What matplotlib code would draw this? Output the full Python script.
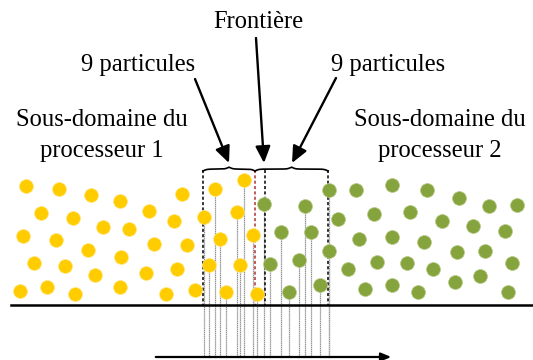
import numpy as np
import matplotlib
matplotlib.use("Agg")
import matplotlib.pyplot as plt

plt.rcParams["font.family"] = ["Liberation Serif", "DejaVu Serif"]

# particle centres (pixel units, y down)
yellow_x = [26, 59, 91, 120, 182, 215, 244, 41, 73, 149, 174, 204, 237,
            23, 56, 103, 129, 88, 154, 187, 220, 253, 34, 65, 121, 95, 146,
            177, 209, 240, 20, 47, 75, 120, 166, 195, 226, 257]
yellow_y = [186, 189, 195, 201, 194, 189, 180, 213, 218, 211, 221, 217, 212,
            236, 240, 227, 229, 250, 244, 245, 239, 235, 263, 266, 257, 275,
            273, 269, 265, 265, 291, 287, 294, 287, 294, 290, 292, 294]
green_x = [264, 305, 281, 311, 270, 299, 289, 320, 329, 329, 356, 392, 427,
           459, 489, 517, 338, 374, 410, 442, 473, 505, 359, 392, 424, 457,
           485, 348, 377, 407, 433, 455, 480, 512, 365, 392, 418, 508]
green_y = [204, 206, 232, 232, 264, 260, 292, 285, 190, 251, 190, 185, 190,
           198, 206, 205, 219, 214, 212, 221, 226, 231, 239, 237, 242, 252,
           251, 269, 262, 263, 269, 282, 276, 263, 289, 285, 292, 292]

# overlap zone edges
box_left, red_front, black_front, box_right = 203, 255, 265, 328
ground_y, axis_y = 305, 357

fig = plt.figure(figsize=(5.33, 3.6), dpi=100)
ax = fig.add_axes([0, 0, 1, 1])
ax.set_xlim(0, 533)
ax.set_ylim(360, 0)
ax.axis("off")

# projections of the particles in the overlap zone
for xs, ys in [(yellow_x, yellow_y), (green_x, green_y)]:
    for x, y in zip(xs, ys):
        if box_left - 2 <= x <= box_right + 2:
            ax.plot([x, x], [y, axis_y], color="#d0d0d0", lw=1.0, zorder=1)
            ax.plot([x, x], [y, axis_y], color="#777777", lw=0.6,
                    ls=(0, (1, 1.5)), zorder=1)

ax.scatter(yellow_x, yellow_y, s=100, color="#FFCC00", edgecolor="#FFE680",
           lw=0.5, zorder=3)
ax.scatter(green_x, green_y, s=100, color="#86A43E", edgecolor="#B8CC8A",
           lw=0.5, zorder=3)

# dashed boundaries
for x, c in [(box_left, "black"), (box_right, "black"),
             (black_front, "black"), (red_front, "#B03030")]:
    ax.plot([x, x], [170, ground_y], color=c, lw=1.1, ls=(0, (2, 1.5)),
            zorder=2)

# ground and bottom axis
ax.plot([11, 533], [ground_y, ground_y], color="black", lw=1.8, zorder=4)
ax.annotate("", xy=(394, axis_y), xytext=(153, axis_y),
            arrowprops=dict(arrowstyle="-|>,head_length=0.6,head_width=0.25",
                            color="black", lw=1.6))


def brace(x0, x1, yb, h=3.8, beta=0.55):
    n = 200
    xs = np.linspace(x0, x1, n)
    half = xs[: n // 2]
    v = 1 / (1 + np.exp(-beta * (half - half[0]))) + \
        1 / (1 + np.exp(-beta * (half - half[-1])))
    v = np.concatenate([v, v[::-1]])
    ax.plot(xs, yb - (v - 0.5) * h, color="black", lw=1.2, zorder=4)


brace(box_left, red_front, 171)
brace(red_front, box_right, 171)

arrow = dict(arrowstyle="-|>,head_length=1.0,head_width=0.45",
             color="black", lw=1.7, shrinkA=0, shrinkB=0)
ax.annotate("", xy=(229, 163), xytext=(195, 79), arrowprops=arrow)
ax.annotate("", xy=(264, 163), xytext=(256, 38), arrowprops=arrow)
ax.annotate("", xy=(292, 163), xytext=(336, 78), arrowprops=arrow)

fs = 17.7
ax.text(258, 22, "Frontière", fontsize=fs, ha="center", va="center")
ax.text(138, 65, "9 particules", fontsize=fs, ha="center", va="center")
ax.text(388, 65, "9 particules", fontsize=fs, ha="center", va="center")
ax.text(102, 120, "Sous-domaine du", fontsize=fs, ha="center", va="center")
ax.text(102, 151, "processeur 1", fontsize=fs, ha="center", va="center")
ax.text(440, 120, "Sous-domaine du", fontsize=fs, ha="center", va="center")
ax.text(440, 151, "processeur 2", fontsize=fs, ha="center", va="center")

fig.savefig("out.png", dpi=100)
